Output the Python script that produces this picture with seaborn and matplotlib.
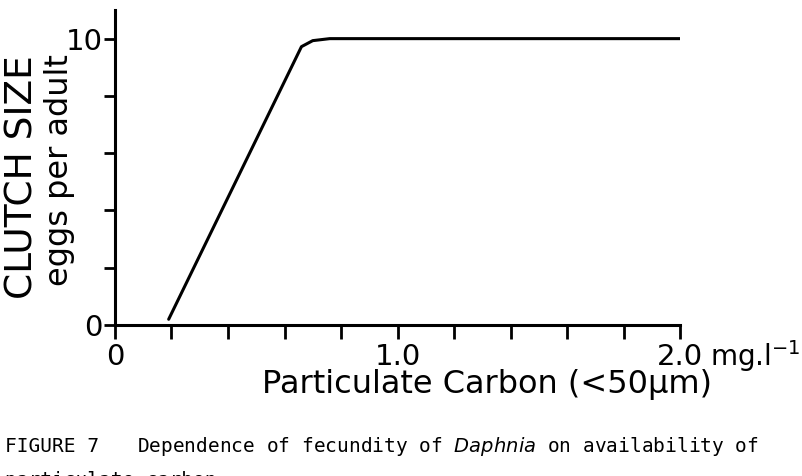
import matplotlib
matplotlib.use("Agg")
import matplotlib.pyplot as plt
import seaborn as sns
import pandas as pd
from matplotlib.ticker import MultipleLocator

# Data
carbon = [0.19, 0.66, 0.70, 0.76, 2.0]
clutch = [0.2, 9.72, 9.93, 10.0, 10.0]
y_ticks = [0, 2, 4, 6, 8, 10]
y_labels = ["0", "", "", "", "", "10"]
x_ticks = [0.0, 1.0, 2.0]
x_labels = ["0", "1.0", "2.0"]

df = pd.DataFrame({"carbon": carbon, "clutch": clutch})

sns.set_style("ticks")
plt.rcParams['font.family'] = ['DejaVu Sans']
plt.rcParams['text.color'] = 'black'
plt.rcParams['xtick.labelcolor'] = 'black'
plt.rcParams['ytick.labelcolor'] = 'black'

fig = plt.figure(figsize=(8.03, 4.76), dpi=100)
ax = fig.add_axes([115/803, 1-325/476, (680-115)/803, (325-10)/476])

sns.lineplot(data=df, x="carbon", y="clutch", ax=ax, color="black", linewidth=2.2)

ax.set_xlim(0, 2.0)
ax.set_ylim(0, 11.0)
for s in ["top", "right"]:
    ax.spines[s].set_visible(False)
for s in ["left", "bottom"]:
    ax.spines[s].set_linewidth(2.2)
    ax.spines[s].set_color("black")

ax.set_yticks(y_ticks)
ax.set_yticklabels(y_labels, fontsize=21)
ax.set_xticks(x_ticks)
ax.set_xticklabels(x_labels, fontsize=21)
ax.xaxis.set_minor_locator(MultipleLocator(0.2))
ax.tick_params(axis="x", which="both", direction="out", length=10, width=2, pad=3, color="black")
ax.tick_params(axis="y", which="both", direction="out", length=8, width=2, pad=1, color="black")
ax.set_xlabel("")
ax.set_ylabel("")

fig.text(710/803, 1-356/476, "mg.l$^{-1}$", fontsize=20, ha="left", va="center")
fig.text(487/803, 1-385/476, "Particulate Carbon (<50\u03bcm)", fontsize=23, ha="center", va="center")
fig.text(23/803, 1-177/476, "CLUTCH SIZE", fontsize=27, rotation=90, ha="center", va="center")
fig.text(60/803, 1-170/476, "eggs per adult", fontsize=23, rotation=90, ha="center", va="center")

fig.text(5/803, 1-446/476, "FIGURE 7", fontsize=14,
         family="DejaVu Sans Mono", ha="left", va="center")
fig.text(137/803, 1-446/476,
         "Dependence of fecundity of $\\it{Daphnia}$ on availability of",
         fontsize=14, family="DejaVu Sans Mono", ha="left", va="center")
fig.text(5/803, 1-481/476, "particulate carbon.", fontsize=14,
         family="DejaVu Sans Mono", ha="left", va="center")

fig.savefig("out.png", dpi=100)
